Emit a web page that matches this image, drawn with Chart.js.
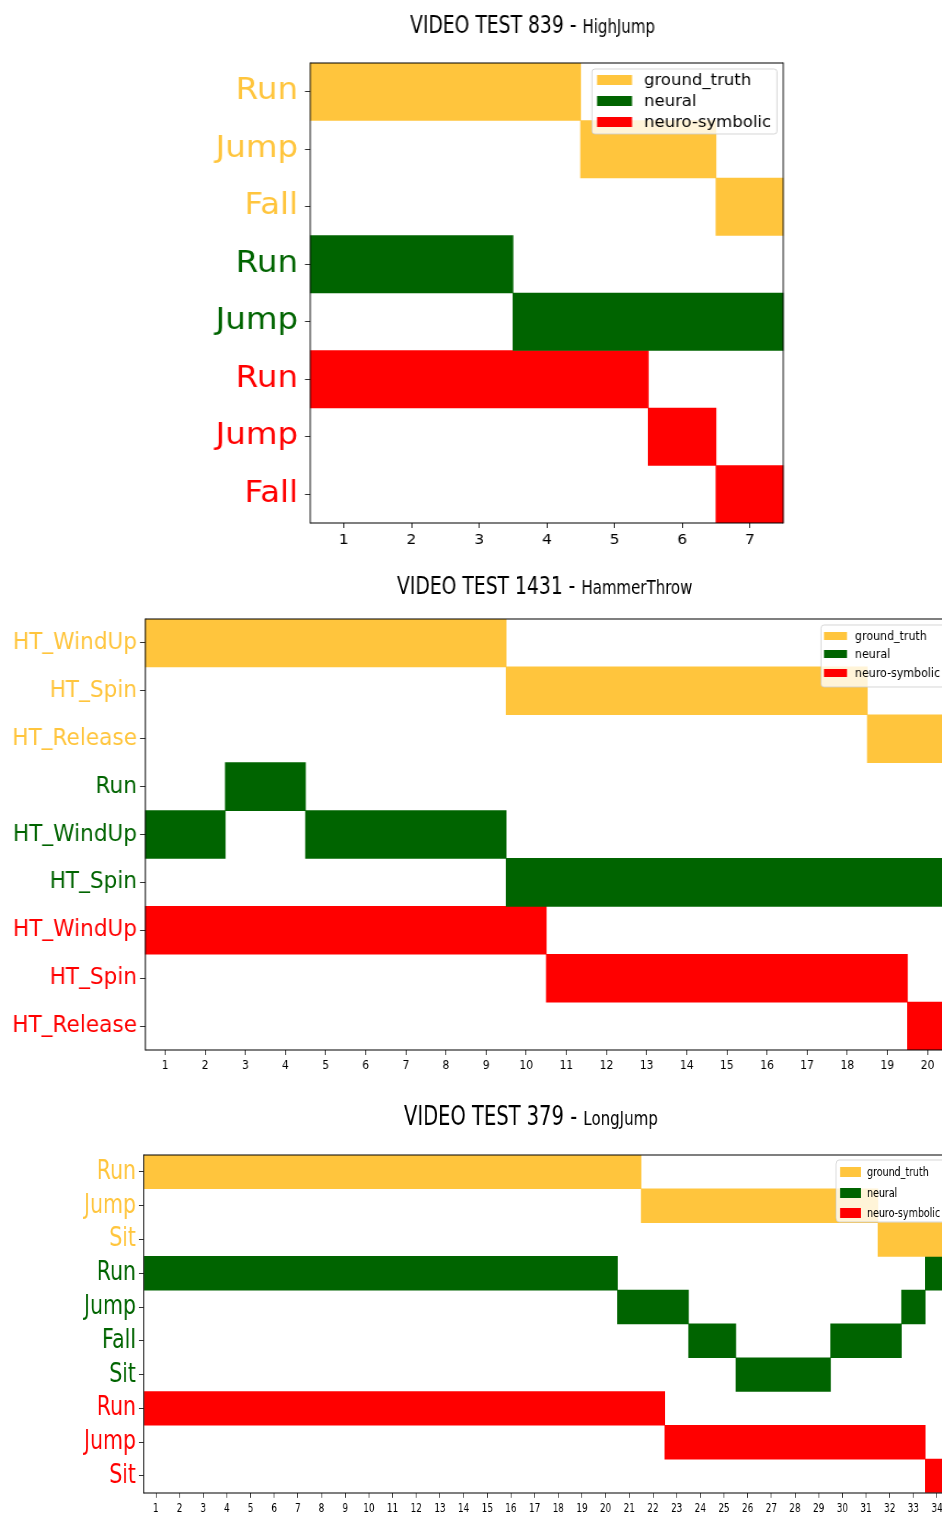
<!DOCTYPE html>
<html><head><meta charset="utf-8">
<script src="https://cdn.jsdelivr.net/npm/chart.js@4.4.1/dist/chart.umd.min.js"></script>
<style>
html,body{margin:0;padding:0;background:#fff;width:942px;height:1513px;overflow:hidden;}
.wrap{position:absolute;left:0;width:942px;overflow:hidden;}
canvas{display:block;transform-origin:0 0;}
</style></head><body>
<div class="wrap" style="top:0;height:560px"><canvas id="c1"></canvas></div>
<div class="wrap" style="top:560px;height:530px"><canvas id="c2"></canvas></div>
<div class="wrap" style="top:1090px;height:423px"><canvas id="c3"></canvas></div>
<script>
// ---------------- DATA ----------------
const seriesNames = ['ground_truth', 'neural', 'neuro-symbolic'];

// Video 839 - HighJump
const frames1 = [1, 2, 3, 4, 5, 6, 7];
const xTickLabels1 = ['1', '2', '3', '4', '5', '6', '7'];
const gtRows1 = ['Run', 'Jump', 'Fall'];
const neuralRows1 = ['Run', 'Jump'];
const nsRows1 = ['Run', 'Jump', 'Fall'];
const groundTruth1 = ['Run', 'Run', 'Run', 'Run', 'Jump', 'Jump', 'Fall'];
const neural1 = ['Run', 'Run', 'Run', 'Jump', 'Jump', 'Jump', 'Jump'];
const neuroSymbolic1 = ['Run', 'Run', 'Run', 'Run', 'Run', 'Jump', 'Fall'];

// Video 1431 - HammerThrow
const frames2 = [1, 2, 3, 4, 5, 6, 7, 8, 9, 10, 11, 12, 13, 14, 15, 16, 17, 18, 19, 20];
const xTickLabels2 = ['1', '2', '3', '4', '5', '6', '7', '8', '9', '10', '11', '12', '13', '14', '15', '16', '17', '18', '19', '20'];
const gtRows2 = ['HT_WindUp', 'HT_Spin', 'HT_Release'];
const neuralRows2 = ['Run', 'HT_WindUp', 'HT_Spin'];
const nsRows2 = ['HT_WindUp', 'HT_Spin', 'HT_Release'];
const groundTruth2 = ['HT_WindUp', 'HT_WindUp', 'HT_WindUp', 'HT_WindUp', 'HT_WindUp', 'HT_WindUp', 'HT_WindUp', 'HT_WindUp', 'HT_WindUp',
  'HT_Spin', 'HT_Spin', 'HT_Spin', 'HT_Spin', 'HT_Spin', 'HT_Spin', 'HT_Spin', 'HT_Spin', 'HT_Spin',
  'HT_Release', 'HT_Release'];
const neural2 = ['HT_WindUp', 'HT_WindUp', 'Run', 'Run', 'HT_WindUp', 'HT_WindUp', 'HT_WindUp', 'HT_WindUp', 'HT_WindUp',
  'HT_Spin', 'HT_Spin', 'HT_Spin', 'HT_Spin', 'HT_Spin', 'HT_Spin', 'HT_Spin', 'HT_Spin', 'HT_Spin', 'HT_Spin', 'HT_Spin'];
const neuroSymbolic2 = ['HT_WindUp', 'HT_WindUp', 'HT_WindUp', 'HT_WindUp', 'HT_WindUp', 'HT_WindUp', 'HT_WindUp', 'HT_WindUp', 'HT_WindUp', 'HT_WindUp',
  'HT_Spin', 'HT_Spin', 'HT_Spin', 'HT_Spin', 'HT_Spin', 'HT_Spin', 'HT_Spin', 'HT_Spin', 'HT_Spin',
  'HT_Release'];

// Video 379 - LongJump
const frames3 = [1, 2, 3, 4, 5, 6, 7, 8, 9, 10, 11, 12, 13, 14, 15, 16, 17, 18, 19, 20, 21, 22, 23, 24, 25, 26, 27, 28, 29, 30, 31, 32, 33, 34];
const xTickLabels3 = ['1', '2', '3', '4', '5', '6', '7', '8', '9', '10', '11', '12', '13', '14', '15', '16', '17', '18', '19', '20', '21', '22', '23', '24', '25', '26', '27', '28', '29', '30', '31', '32', '33', '34'];
const gtRows3 = ['Run', 'Jump', 'Sit'];
const neuralRows3 = ['Run', 'Jump', 'Fall', 'Sit'];
const nsRows3 = ['Run', 'Jump', 'Sit'];
const groundTruth3 = ['Run', 'Run', 'Run', 'Run', 'Run', 'Run', 'Run', 'Run', 'Run', 'Run', 'Run', 'Run', 'Run', 'Run', 'Run', 'Run', 'Run', 'Run', 'Run', 'Run', 'Run',
  'Jump', 'Jump', 'Jump', 'Jump', 'Jump', 'Jump', 'Jump', 'Jump', 'Jump', 'Jump',
  'Sit', 'Sit', 'Sit'];
const neural3 = ['Run', 'Run', 'Run', 'Run', 'Run', 'Run', 'Run', 'Run', 'Run', 'Run', 'Run', 'Run', 'Run', 'Run', 'Run', 'Run', 'Run', 'Run', 'Run', 'Run',
  'Jump', 'Jump', 'Jump', 'Fall', 'Fall', 'Sit', 'Sit', 'Sit', 'Sit', 'Fall', 'Fall', 'Fall', 'Jump', 'Run'];
const neuroSymbolic3 = ['Run', 'Run', 'Run', 'Run', 'Run', 'Run', 'Run', 'Run', 'Run', 'Run', 'Run', 'Run', 'Run', 'Run', 'Run', 'Run', 'Run', 'Run', 'Run', 'Run', 'Run', 'Run',
  'Jump', 'Jump', 'Jump', 'Jump', 'Jump', 'Jump', 'Jump', 'Jump', 'Jump', 'Jump', 'Jump',
  'Sit'];

// ---------------- STYLE ----------------
const COLORS = ['#FFC53D', '#006400', '#FF0000'];
const FONT = '"DejaVu Sans", "Noto Sans", sans-serif';
const FONT_TICK = '"DejaVu Sans Condensed", "DejaVu Sans", sans-serif';

function buildChart(cfg) {
  const s = cfg.s;
  const canvas = document.getElementById(cfg.id);
  const iw = Math.round(cfg.dispW / s);
  canvas.width = iw; canvas.height = cfg.dispH;
  canvas.style.width = iw + 'px'; canvas.style.height = cfg.dispH + 'px';
  canvas.style.transform = 'scaleX(' + s + ')';

  const labels = [], rowColors = [];
  cfg.series.forEach((se, k) => se.rows.forEach(r => { labels.push(r); rowColors.push(COLORS[k]); }));

  const datasets = [];
  let offset = 0;
  cfg.series.forEach((se, k) => {
    const segs = se.rows.map(() => []);
    let i = 0;
    while (i < se.seq.length) {
      let j = i;
      while (j + 1 < se.seq.length && se.seq[j + 1] === se.seq[i]) j++;
      segs[se.rows.indexOf(se.seq[i])].push([cfg.frames[i] - 0.5, cfg.frames[j] + 0.5]);
      i = j + 1;
    }
    const maxSegs = Math.max(...segs.map(a => a.length));
    for (let m = 0; m < maxSegs; m++) {
      const data = labels.map(() => null);
      segs.forEach((a, r) => { if (a[m]) data[offset + r] = a[m]; });
      datasets.push({ label: seriesNames[k], data, backgroundColor: COLORS[k], borderWidth: 0,
        barPercentage: 1, categoryPercentage: 1, grouped: false });
    }
    offset += se.rows.length;
  });

  const L = cfg.legend;
  const deco = {
    id: 'deco',
    afterDatasetsDraw(chart) {
      const ctx = chart.ctx, a = chart.chartArea;
      ctx.save();
      ctx.fillStyle = '#000';
      const lx = Math.round(a.left), rx = Math.round(a.right), ty = Math.round(a.top), by = Math.round(a.bottom);
      ctx.fillRect(lx - 0.5 / s, ty - 0.5, 1 / s, by - ty + 1);
      ctx.fillRect(rx - 0.5 / s, ty - 0.5, 1 / s, by - ty + 1);
      ctx.fillRect(lx, ty - 0.5, rx - lx, 1);
      ctx.fillRect(lx, by - 0.5, rx - lx, 1);
      // legend
      const bx = L.x / s, bw = L.w / s, rr = 3 / s;
      ctx.beginPath();
      ctx.roundRect(bx, L.y, bw, L.h, rr);
      ctx.fillStyle = 'rgba(255,255,255,0.8)';
      ctx.fill();
      ctx.strokeStyle = 'rgba(204,204,204,0.8)';
      ctx.lineWidth = 1;
      ctx.stroke();
      ctx.font = L.font + 'px ' + FONT;
      ctx.textBaseline = 'middle';
      ctx.textAlign = 'left';
      seriesNames.forEach((nm, k) => {
        const cy = L.rows[k];
        ctx.fillStyle = COLORS[k];
        ctx.fillRect(L.px / s, cy - L.ph / 2, L.pw / s, L.ph);
        ctx.fillStyle = '#000';
        ctx.fillText(nm, L.tx / s, cy + 1);
      });
      ctx.restore();
    },
    afterDraw(chart) {
      const ctx = chart.ctx, T = cfg.title, k = 0.75;
      ctx.save();
      ctx.fillStyle = '#000';
      ctx.textBaseline = 'alphabetic';
      ctx.textAlign = 'left';
      ctx.font = T.size1 + 'px ' + FONT;
      const w1 = ctx.measureText(T.main).width;
      ctx.translate(T.x / s, T.y);
      ctx.scale(k / s, 1);
      ctx.fillText(T.main, 0, 0);
      ctx.font = T.size2 + 'px ' + FONT;
      ctx.fillText(T.sub, w1, 0);
      ctx.restore();
    }
  };

  return new Chart(canvas, {
    type: 'bar',
    data: { labels, datasets },
    options: {
      indexAxis: 'y',
      responsive: false,
      devicePixelRatio: 1,
      animation: false,
      events: [],
      layout: { padding: { left: 0, top: cfg.plot.top, right: (cfg.dispW - cfg.plot.right) / s, bottom: 0 } },
      plugins: { legend: { display: false }, title: { display: false }, tooltip: { enabled: false } },
      scales: {
        x: {
          type: 'linear',
          min: cfg.frames[0] - 0.5,
          max: cfg.frames[cfg.frames.length - 1] + 0.5,
          afterBuildTicks: sc => { sc.ticks = cfg.frames.map(v => ({ value: v })); },
          afterFit: sc => { sc.height = cfg.dispH - cfg.plot.bottom; },
          ticks: { autoSkip: false, maxRotation: 0, minRotation: 0, color: '#000',
            font: { family: cfg.xFontFamily, size: cfg.xFont }, padding: cfg.xPad,
            callback: (v, i) => cfg.tickLabels[i] },
          grid: { display: true, drawOnChartArea: false, drawTicks: true, tickLength: cfg.xTick, tickColor: '#333', tickWidth: 1 },
          border: { display: false }
        },
        y: {
          type: 'category',
          offset: true,
          afterFit: sc => { sc.width = cfg.plot.left / s; },
          ticks: { autoSkip: false, color: c => rowColors[c.index],
            font: { family: FONT, size: cfg.yFont }, padding: cfg.yPad / s },
          grid: { display: true, offset: false, drawOnChartArea: false, drawTicks: true, tickLength: 5 / s, tickColor: '#333', tickWidth: 1 },
          border: { display: false }
        }
      }
    },
    plugins: [deco]
  });
}

buildChart({
  id: 'c1', s: 1.1, dispW: 942, dispH: 560,
  plot: { left: 310, right: 784, top: 63, bottom: 523 },
  frames: frames1, tickLabels: xTickLabels1,
  series: [{ rows: gtRows1, seq: groundTruth1 }, { rows: neuralRows1, seq: neural1 }, { rows: nsRows1, seq: neuroSymbolic1 }],
  yFont: 29.5, yPad: 7, xFont: 14, xFontFamily: FONT, xPad: 4, xTick: 5,
  title: { main: 'VIDEO TEST 839 - ', sub: 'HighJump', x: 410, y: 33, size1: 25, size2: 20 },
  legend: { x: 592, y: 69, w: 185, h: 65, rows: [80, 101, 122], px: 597, pw: 35, ph: 10, tx: 644, font: 15 }
});

buildChart({
  id: 'c2', s: 0.92, dispW: 960, dispH: 530,
  plot: { left: 145, right: 948, top: 59, bottom: 490 },
  frames: frames2, tickLabels: xTickLabels2,
  series: [{ rows: gtRows2, seq: groundTruth2 }, { rows: neuralRows2, seq: neural2 }, { rows: nsRows2, seq: neuroSymbolic2 }],
  yFont: 23.5, yPad: 3, xFont: 13, xFontFamily: FONT_TICK, xPad: 3, xTick: 5,
  title: { main: 'VIDEO TEST 1431 - ', sub: 'HammerThrow', x: 397, y: 34, size1: 25, size2: 20 },
  legend: { x: 821, y: 65, w: 130, h: 62, rows: [76, 94, 113], px: 824, pw: 23, ph: 8, tx: 855, font: 12 }
});

buildChart({
  id: 'c3', s: 0.76, dispW: 960, dispH: 423,
  plot: { left: 144, right: 949, top: 65, bottom: 403 },
  frames: frames3, tickLabels: xTickLabels3,
  series: [{ rows: gtRows3, seq: groundTruth3 }, { rows: neuralRows3, seq: neural3 }, { rows: nsRows3, seq: neuroSymbolic3 }],
  yFont: 27, yPad: 3, xFont: 13, xFontFamily: FONT_TICK, xPad: 3, xTick: 5,
  title: { main: 'VIDEO TEST 379 - ', sub: 'LongJump', x: 404, y: 35, size1: 26, size2: 20 },
  legend: { x: 836, y: 70, w: 120, h: 62, rows: [82, 103, 123], px: 840, pw: 21, ph: 10, tx: 867, font: 12.5 }
});
</script>
</body></html>
